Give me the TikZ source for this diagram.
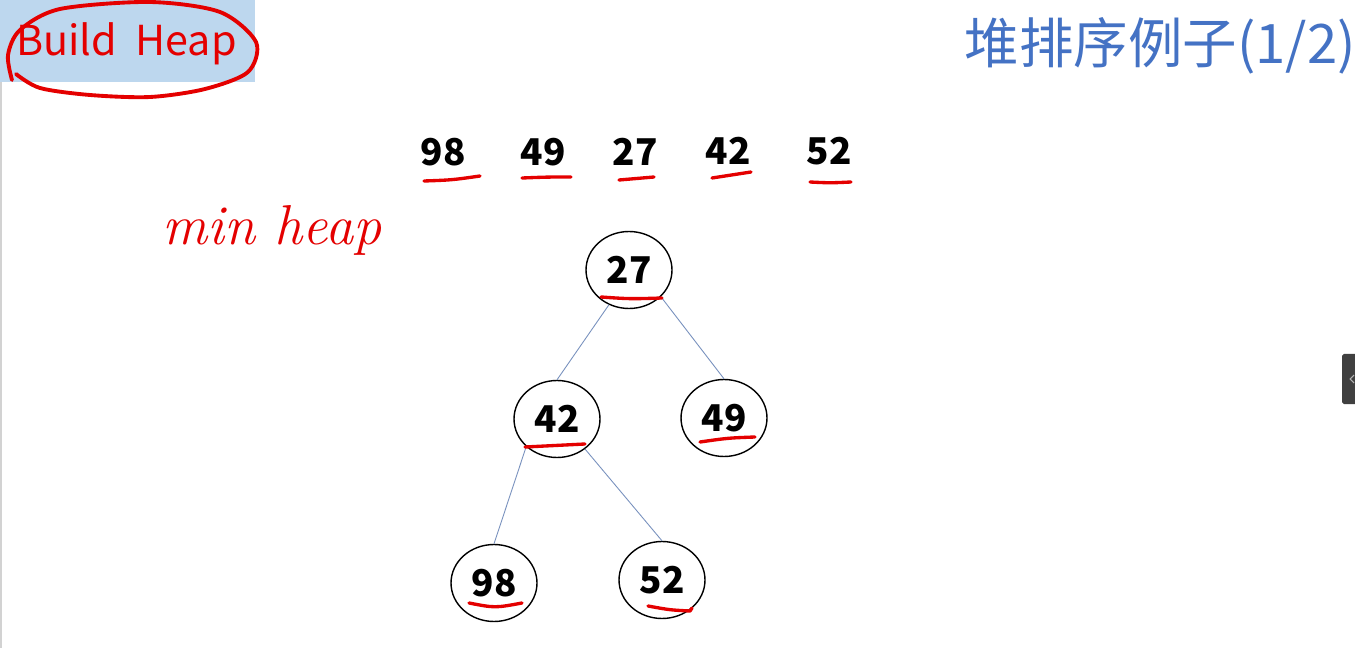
\documentclass[tikz,border=0pt]{standalone}
\usepackage{fontspec}
\newfontfamily\cjk{Noto Sans CJK SC}
\usetikzlibrary{shapes.geometric}
\definecolor{titleblue}{RGB}{68,114,196}
\definecolor{penred}{RGB}{228,0,0}
\definecolor{tagblue}{RGB}{189,215,238}
\definecolor{linkblue}{RGB}{120,145,190}
\definecolor{tabgray}{RGB}{64,64,64}

\begin{document}
\begin{tikzpicture}[x=0.02cm, y=-0.02cm,
  num/.style={font=\cjk\bfseries\fontsize{21}{24}\selectfont, inner sep=0pt},
  heapnode/.style={ellipse, draw, line width=0.8pt, minimum width=1.72cm,
    minimum height=1.54cm, inner sep=0pt, num},
  ink/.style={penred, line width=1.9pt, line cap=round, line join=round},
  treeline/.style={linkblue, line width=0.5pt}]

  \useasboundingbox (0,0) rectangle (1355,648);
  \fill[white] (0,0) rectangle (1355,648);

  % 左上角标签
  \fill[tagblue] (0,0) rectangle (255,82);
  \draw[gray!35, line width=0.6pt] (1,82) -- (1,648);
  \node[font=\cjk\fontsize{23.5}{28}\selectfont, penred, anchor=west] (tag) at (10,44) {Build\ \ Heap};

  % 标题
  \node[font=\cjk\fontsize{31}{36}\selectfont, titleblue, anchor=east] (title) at (1362,46) {堆排序例子(1/2)};

  % 输入序列
  \node[num] (a98) at (443,152) {98};
  \node[num] (a49) at (543,152) {49};
  \node[num] (a27) at (635,152) {27};
  \node[num] (a42) at (728,151) {42};
  \node[num] (a52) at (829,151) {52};

  % 手写批注
  \node[font=\itshape\fontsize{32}{36}\selectfont, penred] (note) at (272,230) {min heap};

  % 小顶堆
  \node[heapnode] (n27) at (629,270) {27};
  \node[heapnode] (n42) at (557,419) {42};
  \node[heapnode] (n49) at (724,418) {49};
  \node[heapnode] (n98) at (494,583) {98};
  \node[heapnode] (n52) at (662,580) {52};

  \draw[treeline] (n27.240) -- (n42.north);
  \draw[treeline] (n27.320) -- (n49.north);
  \draw[treeline] (n42.222) -- (n98.north);
  \draw[treeline] (n42.313) -- (n52.north);

  % 红笔圈与下划线
  \draw[ink, line width=2.2pt] plot[smooth] coordinates {(12,80) (8,55) (20,30) (60,9) (150,2)
    (220,12) (256,42) (248,72) (205,89) (150,97) (90,95) (40,88) (16,74)};
  \draw[ink] (424,181) .. controls (452,180) .. (480,176);
  \draw[ink] (522,178) .. controls (548,177) .. (571,177);
  \draw[ink] (619,180) .. controls (637,179) .. (654,177);
  \draw[ink] (712,178) .. controls (732,175) .. (751,172);
  \draw[ink] (810,182) .. controls (830,183) .. (851,182);
  \draw[ink] (601,297) .. controls (630,299) .. (662,298);
  \draw[ink] (525,447) .. controls (555,445) .. (585,444);
  \draw[ink] (700,442) .. controls (728,438) .. (755,437);
  \draw[ink] (469,603) .. controls (495,608) .. (522,603);
  \draw[ink] (648,606) .. controls (670,610) .. (690,611) -- (692,608);

  % 右侧折叠按钮
  \fill[tabgray, rounded corners=1pt] (1342,354) rectangle (1360,404);
  \draw[gray!60, line width=0.6pt] (1354,375) -- (1350,379) -- (1354,383);

\end{tikzpicture}
\end{document}
